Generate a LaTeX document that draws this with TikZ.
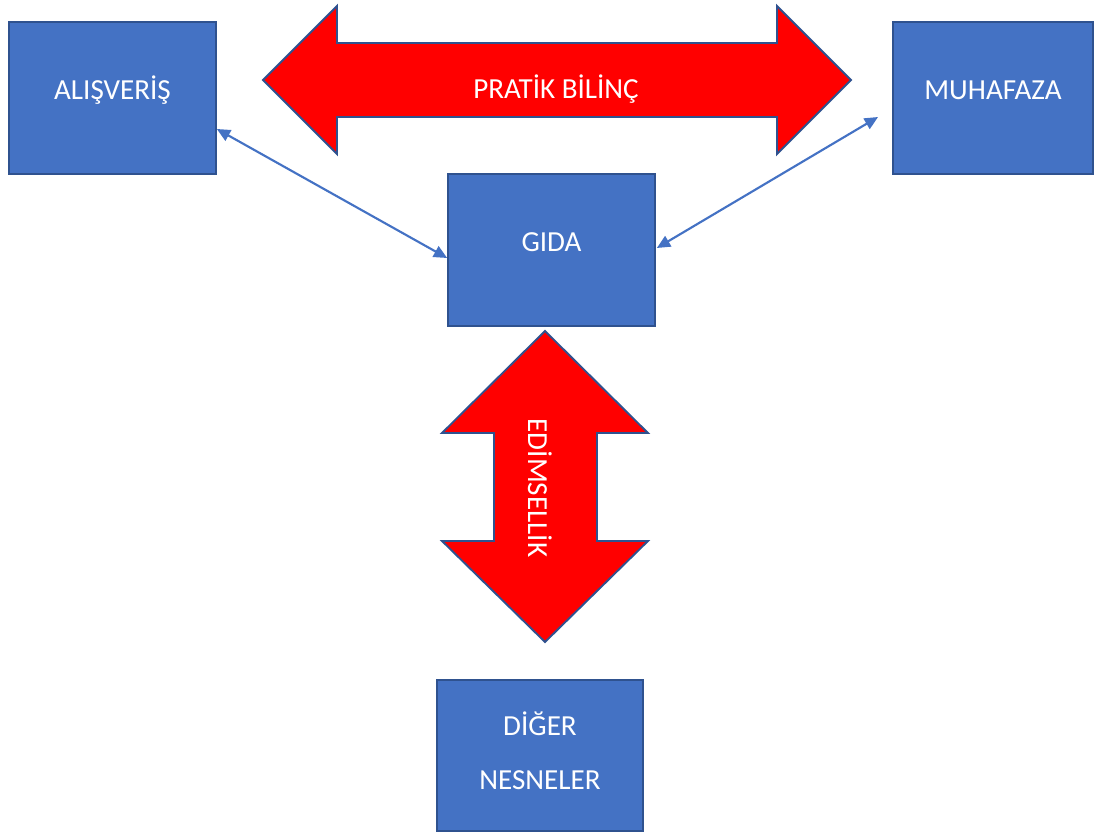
\documentclass[tikz,border=0pt]{standalone}
\usepackage{fontspec}
\setmainfont{Carlito}
\usetikzlibrary{arrows.meta}
\definecolor{boxblue}{HTML}{4472C4}
\definecolor{edgeblue}{HTML}{2F528F}
\definecolor{arrowred}{HTML}{FF0000}

\begin{document}
\begin{tikzpicture}[x=0.75pt, y=-0.75pt,
	box/.style={draw=edgeblue, fill=boxblue, line width=1.5pt, minimum width=155pt, minimum height=114pt, inner sep=0pt, text=white, font=\fontsize{21.8}{26}\selectfont},
	oneline/.style={text height=14pt, text depth=12pt},
	bigarrow/.style={draw=edgeblue, fill=arrowred, line width=1.4pt, line join=miter},
	arrowtext/.style={text=white, font=\fontsize{21.8}{26}\selectfont},
	link/.style={boxblue, line width=1.6pt, {Triangle[length=10pt,width=9pt]}-{Triangle[length=10pt,width=9pt]}}]
	
	\useasboundingbox (0,0) rectangle (1102,832);
	
	% boxes
	\node[box, oneline] (alis) at (112.5,98) {ALIŞVERİŞ};
	\node[box, oneline, minimum width=150pt] (muh) at (993,98) {MUHAFAZA};
	\node[box, oneline] (gida) at (551.5,250) {GIDA};
	\node[box, align=center, minimum height=113pt, text depth=7.5pt] (diger) at (540,755.5) {DİĞER\\[15pt]NESNELER};
	
	% big double arrows
	\draw[bigarrow] (263,80) -- (337,6) -- (337,43) -- (777,43) -- (777,6) -- (851,80)
		-- (777,154) -- (777,117) -- (337,117) -- (337,154) -- cycle;
	\node[arrowtext, anchor=base] (pratik) at (556,98) {PRATİK BİLİNÇ};
	
	\draw[bigarrow] (545,331) -- (648,433) -- (597,433) -- (597,541) -- (648,541) -- (545,642)
		-- (442,541) -- (494,541) -- (494,433) -- (442,433) -- cycle;
	\node[arrowtext, rotate=-90] (edim) at (540,488) {EDİMSELLİK};
	
	% connectors
	\draw[link] ([shift={(0,31)}]alis.east) -- ([shift={(0,8)}]gida.west);
	\draw[link] ([shift={(-14,19)}]muh.west) -- ([shift={(1,-2)}]gida.east);
	
\end{tikzpicture}
\end{document}
